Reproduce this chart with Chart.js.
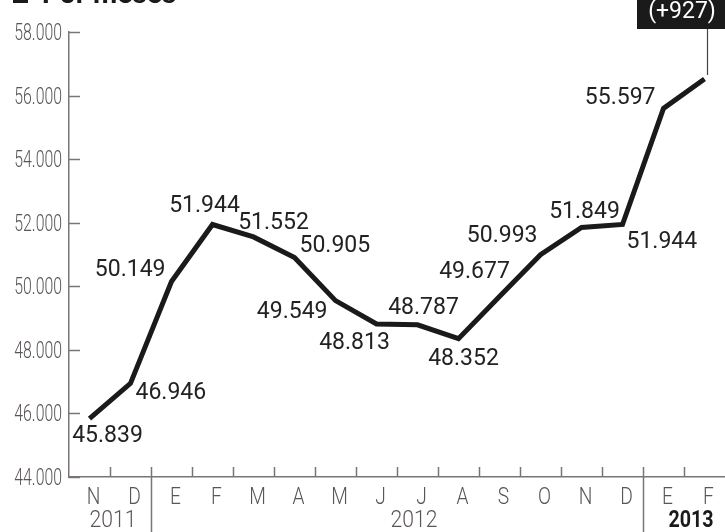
<!DOCTYPE html>
<html lang="es">
<head>
<meta charset="UTF-8">
<title>Por meses</title>
<script src="https://cdn.jsdelivr.net/npm/chart.js@4.4.0/dist/chart.umd.min.js"></script>
<style>
  html, body { margin: 0; padding: 0; background: #fff; }
  #wrap { position: relative; width: 725px; height: 532px; }
</style>
</head>
<body>
<div id="wrap"><canvas id="chart" width="725" height="532"></canvas></div>
<script>
  // datos
  var months = ['N', 'D', 'E', 'F', 'M', 'A', 'M', 'J', 'J', 'A', 'S', 'O', 'N', 'D', 'E', 'F'];
  var values = [45839, 46946, 50149, 51944, 51552, 50905, 49549, 48813, 48787, 48352, 49677, 50993, 51849, 51944, 55597, 56524];
  var valueLabels = ['45.839', '46.946', '50.149', '51.944', '51.552', '50.905', '49.549', '48.813', '48.787', '48.352', '49.677', '50.993', '51.849', '51.944', '55.597', ''];
  var years = ['2011', '2012', '2013'];
  var yearFirst = [0, 2, 14];
  var yearLast = [1, 13, 15];
  var yMin = 44000, yMax = 58000, yStep = 2000;
  var lastChange = '(+927)';

  // where each value label sits relative to its point: [dx, dy, align]
  var labelPlace = [
    [18, 18, 'center'], [5, 10, 'left'], [-6, -11, 'right'], [-8, -18, 'center'],
    [20, -14, 'center'], [5, -11, 'left'], [-8, 12, 'right'], [-22, 19, 'center'],
    [6, -17, 'center'], [5, 21, 'center'], [-25, -24, 'center'], [-3, -18, 'right'],
    [3, -15, 'center'], [4, 18, 'left'], [-8, -10, 'right'], [0, 0, 'center']
  ];

  var axisColor = '#7a7474';
  var tickText = '#5b5555';

  function fmt(v) {
    return String(v).replace(/\B(?=(\d{3})+(?!\d))/g, '.');
  }

  // the print font is a condensed one: draw text squeezed horizontally
  function narrowText(ctx, txt, x, y, align, sq) {
    ctx.save();
    ctx.translate(x, y);
    ctx.scale(sq, 1);
    ctx.textAlign = align;
    ctx.fillText(txt, 0, 0);
    ctx.restore();
  }

  var extras = {
    id: 'extras',
    afterDraw: function (chart) {
      var ctx = chart.ctx;
      var xs = chart.scales.x, ys = chart.scales.y;
      var area = chart.chartArea;
      ctx.save();

      // inward ticks and labels on y axis
      ctx.strokeStyle = axisColor;
      ctx.lineWidth = 1.5;
      ctx.fillStyle = tickText;
      ctx.font = "300 24px 'Roboto', sans-serif";
      ctx.textBaseline = 'middle';
      ys.ticks.forEach(function (t) {
        var y = Math.round(ys.getPixelForValue(t.value)) + 0.5;
        ctx.beginPath();
        ctx.moveTo(area.left, y);
        ctx.lineTo(area.left + 11, y);
        ctx.stroke();
        narrowText(ctx, fmt(t.value), area.left - 7, y + 1, 'right', 0.66);
      });

      // ticks between months, long ones where the year changes
      for (var i = 1; i < months.length; i++) {
        var bx = Math.round((xs.getPixelForValue(i - 1) + xs.getPixelForValue(i)) / 2) + 0.5;
        var isYear = yearFirst.indexOf(i) >= 0;
        ctx.beginPath();
        ctx.moveTo(bx, area.bottom - 10);
        ctx.lineTo(bx, isYear ? chart.height : area.bottom);
        ctx.stroke();
      }

      // month labels
      months.forEach(function (m, i) {
        narrowText(ctx, m, xs.getPixelForValue(i) + 4, area.bottom + 21, 'center', 0.8);
      });

      // year labels
      years.forEach(function (yr, k) {
        var cx = (xs.getPixelForValue(yearFirst[k]) + xs.getPixelForValue(yearLast[k])) / 2;
        if (k === years.length - 1) {
          ctx.save();
          ctx.font = "bold 24px 'Roboto', sans-serif";
          ctx.fillStyle = '#1a1a1a';
          ctx.translate(cx + 7, area.bottom + 44);
          ctx.scale(0.82, 1);
          ctx.textAlign = 'center';
          ctx.fillText(yr, 0, 0);
          ctx.restore();
        } else {
          narrowText(ctx, yr, cx + (k === 1 ? 17 : 3), area.bottom + 44, 'center', 0.88);
        }
      });

      // value labels
      ctx.font = "23px 'Roboto', sans-serif";
      ctx.fillStyle = '#222';
      var meta = chart.getDatasetMeta(0);
      meta.data.forEach(function (pt, i) {
        if (!valueLabels[i]) return;
        var p = labelPlace[i];
        ctx.textAlign = p[2];
        ctx.fillText(valueLabels[i], pt.x + p[0], pt.y + p[1]);
      });

      // callout for the last month
      var last = meta.data[meta.data.length - 1];
      ctx.fillStyle = '#1a1a1a';
      ctx.fillRect(637, -20, chart.width - 637, 49);
      ctx.strokeStyle = '#444';
      ctx.lineWidth = 1.2;
      ctx.beginPath();
      ctx.moveTo(Math.round(last.x + 2) + 0.5, 29);
      ctx.lineTo(Math.round(last.x + 2) + 0.5, last.y - 4);
      ctx.stroke();
      ctx.fillStyle = '#fff';
      ctx.textAlign = 'center';
      ctx.font = "23px 'Roboto', sans-serif";
      ctx.fillText(fmt(values[values.length - 1]), 682, -14);
      ctx.fillText(lastChange, 682, 12);

      // title, mostly cut off at the top
      ctx.fillStyle = '#1a1a1a';
      ctx.fillRect(13, -12, 15, 15);
      ctx.textAlign = 'left';
      ctx.textBaseline = 'alphabetic';
      ctx.font = "bold 28px 'Roboto', sans-serif";
      ctx.fillText('Por meses', 42, 3);

      ctx.restore();
    }
  };

  var ctx = document.getElementById('chart').getContext('2d');
  var myChart = new Chart(ctx, {
    type: 'line',
    data: {
      labels: months,
      datasets: [{
        data: values,
        borderColor: '#1a1a1a',
        borderWidth: 5,
        pointRadius: 0,
        tension: 0,
        borderJoinStyle: 'miter',
        borderCapStyle: 'butt'
      }]
    },
    options: {
      responsive: false,
      animation: false,
      layout: { padding: { top: 32, right: 0, left: 0, bottom: 0 } },
      plugins: { legend: { display: false }, tooltip: { enabled: false } },
      scales: {
        x: {
          offset: true,
          grid: { display: false, drawTicks: false },
          border: { display: true, color: axisColor, width: 1.5 },
          ticks: { display: false, autoSkip: false },
          afterFit: function (scale) { scale.height = 55; }
        },
        y: {
          min: yMin,
          max: yMax,
          grid: { display: false, drawTicks: false },
          border: { display: true, color: axisColor, width: 1.5 },
          ticks: { display: false, stepSize: yStep },
          afterFit: function (scale) { scale.width = 69; }
        }
      }
    },
    plugins: [extras]
  });
</script>
</body>
</html>
